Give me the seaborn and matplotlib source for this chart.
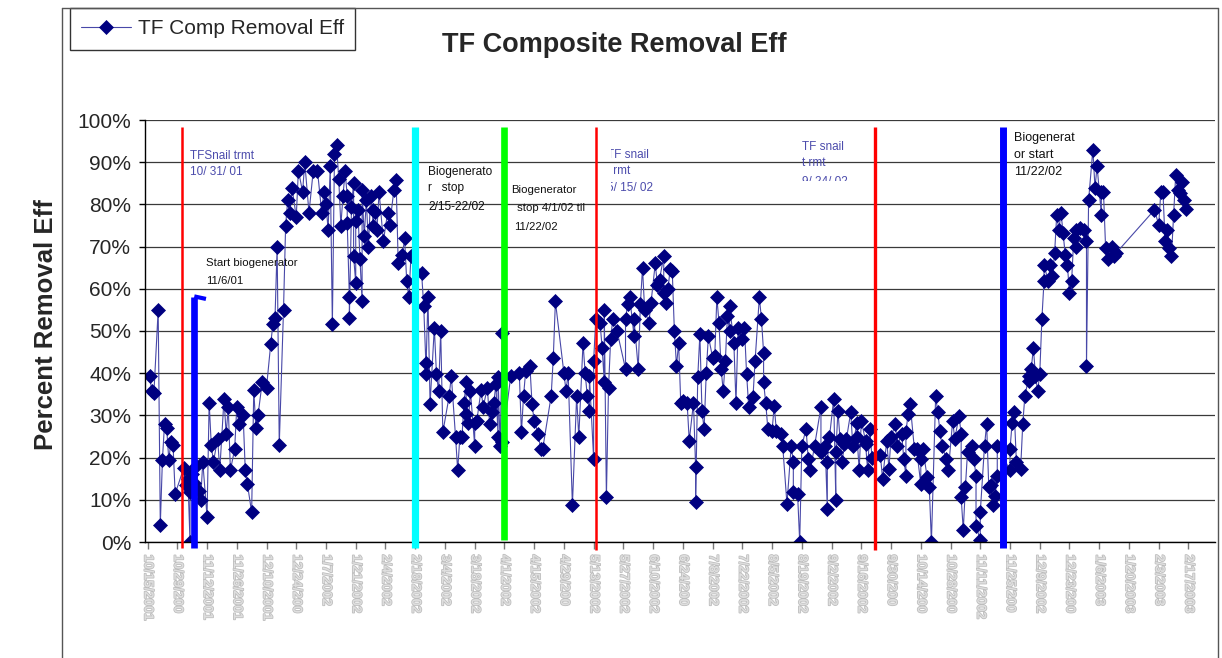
import numpy as np
import pandas as pd
import matplotlib
matplotlib.use("Agg")
import matplotlib.pyplot as plt
import seaborn as sns
from matplotlib import patheffects as pe
from matplotlib.lines import Line2D
from matplotlib.ticker import PercentFormatter
from matplotlib.transforms import Bbox

# ---------------- data (days since 10/15/2001, removal efficiency %) ----------------
days_a = [1, 2, 3, 5, 6, 7, 8, 9, 10, 11, 12, 13, 17, 18, 19, 20, 20, 21, 22, 23, 24, 25, 26, 28,
          29, 30, 31, 33, 34, 36, 37, 38, 39, 41, 42, 43, 45, 46, 47, 49, 50, 51, 52, 54, 56, 58,
          59, 60, 61, 62, 64, 65, 66, 67, 68, 70, 71, 73, 74, 76, 78, 80, 82, 83, 84, 85, 86, 87,
          88, 89, 90, 91, 92]
eff_a = [39.4, 35.8, 35.4, 55, 4, 19.5, 28, 27, 19.5, 23.6, 23, 11.4, 17.5, 13.4, 15, 0, 11.8, 16,
         14, 18, 12, 10, 19, 6, 33, 23, 19, 24.4, 17, 34, 25.6, 32, 17, 22, 32, 28, 30, 17, 13.8, 7,
         36, 27, 30, 38, 36.6, 47, 51.6, 53, 70, 23, 55, 75, 81, 78, 84, 77, 88, 83, 90, 78, 88, 88,
         78, 83, 80, 74, 89, 51.6, 92, 94, 86, 75, 82]

days_b = [93, 94, 94, 95, 95, 96, 97, 97, 98, 98, 99, 100, 101, 101, 102, 103, 104, 105, 106, 106,
          107, 108, 109, 111, 113, 114, 116, 117, 118, 120, 121, 122, 123, 124, 129, 130, 131, 131,
          132, 133, 135, 136, 137, 138, 139, 142, 143, 145, 146, 147, 148, 149, 150, 150, 151, 152,
          154, 154, 155, 157, 158, 160, 161, 162, 163, 164, 165, 165, 166, 167, 167, 171, 175, 176,
          177, 178, 180, 181, 182, 184, 185]
eff_b = [87.8, 82, 75.6, 58, 53, 79.5, 85, 67.7, 61.4, 76, 78.7, 67, 57, 83.5, 72.4, 81, 70, 82,
         78.7, 74.8, 78.3, 74, 83, 71.3, 78, 75.2, 83.5, 85.8, 66, 68, 72, 61.8, 58, 67.7, 63.8, 56,
         42.5, 39.8, 58, 32.7, 50.8, 39.8, 35.8, 50, 26, 34.6, 39.4, 24.8, 17, 24.8, 24.8, 33, 38,
         30.3, 28.3, 35.8, 22.8, 28.3, 28.7, 36, 32, 36.6, 28, 30.7, 33, 37.4, 24.8, 39, 22.8, 49.6,
         23.6, 39.4, 40, 26, 34.6, 40.5, 41.7, 32.7, 28.7, 25.6, 22]

days_c = [186, 190, 191, 192, 196, 197, 198, 200, 202, 203, 205, 206, 207, 208, 208, 210, 210, 211,
          213, 214, 215, 215, 216, 217, 218, 219, 221, 225, 225, 226, 227, 229, 229, 231, 232, 233,
          234, 236, 237, 239, 240, 241, 243, 243, 244, 245, 246, 247, 248, 249, 250, 251, 252, 254,
          255, 257, 258, 258, 259, 260, 261, 262, 263, 264, 266, 267, 268, 269, 270, 271, 272, 273,
          274, 274, 276, 277, 278, 280, 281, 282, 283]
eff_c = [22, 34.6, 43.7, 57, 40, 35.8, 40, 8.7, 34.6, 24.8, 47.2, 40, 34.6, 31, 39.4, 19.7, 43, 52.8,
         52, 46, 38, 55, 10.6, 36.6, 48, 52.8, 50, 41, 52.8, 56.3, 58, 48.8, 52.8, 41, 56.3, 65, 55,
         52, 56.7, 66, 61, 62.2, 67.7, 59, 56.7, 60, 64.6, 64.2, 50, 41.7, 47.2, 33, 33.5, 33, 24,
         33, 17.7, 9.4, 39, 49.2, 31, 26.8, 40, 48.8, 43.7, 44, 58, 52, 41, 35.8, 43, 53.5, 50, 56,
         47.2, 33, 50.8, 48, 50.8, 39.8, 32]

days_d = [285, 286, 288, 289, 290, 290, 291, 292, 294, 295, 296, 298, 299, 301, 303, 304, 304, 306,
          307, 308, 310, 311, 312, 314, 317, 317, 319, 320, 320, 321, 323, 324, 324, 325, 326, 327,
          328, 329, 331, 332, 334, 334, 335, 336, 338, 338, 339, 340, 341, 345, 346, 348, 349, 350,
          352, 353, 355, 356, 357, 357, 358, 359, 361, 362, 364, 364, 365, 367, 368, 369, 371, 372,
          373, 374, 376, 377, 379, 380, 382, 383, 383, 384, 385, 386]
eff_d = [34.3, 43, 58, 52.8, 44.9, 37.8, 33, 26.8, 26.4, 32.3, 26.4, 25.6, 22.8, 9, 22.8, 19, 11.8,
         11.4, 0, 22.8, 26.8, 19.7, 17, 22.8, 32, 21.3, 22.8, 7.9, 19, 24.8, 33.9, 10, 21.3, 31,
         24.4, 19, 23.2, 24.4, 30.7, 22.8, 28.3, 24.8, 17, 28.7, 24, 23.2, 17, 26.8, 20, 20.5, 15,
         24, 17.3, 24.8, 28, 22.8, 25.6, 19.7, 15.7, 26, 30.3, 32.7, 22, 22, 13.8, 19.7, 22, 15.4,
         13, 0, 34.6, 30.7, 26.4, 22.8, 19.7, 17, 28.7, 24.4, 29.9, 25.6, 10.6, 2.8, 13, 21.3]

days_e = [388, 389, 390, 390, 392, 392, 394, 395, 396, 397, 398, 399, 400, 400, 406, 406, 407, 408,
          409, 411, 412, 413, 415, 415, 416, 417, 418, 419, 420, 421, 422, 422, 424, 425, 426, 427,
          428, 429, 430, 431, 432, 433, 434, 435, 436, 437, 437, 439, 441, 442, 442, 443, 445, 446,
          447, 449, 449, 450, 451, 452, 454, 455, 456, 474, 476, 477, 478, 479, 480, 481, 482, 483,
          484, 485, 486, 487, 488, 489]
eff_e = [22.8, 19.7, 15.7, 3.9, 0.4, 7, 22.8, 28, 13, 13.4, 8.7, 11, 15.7, 22.8, 17, 22, 28.3, 30.7,
         19, 17.3, 28, 34.6, 39.4, 38.2, 41, 46, 39.4, 35.8, 39.8, 52.8, 61.8, 65.7, 61.8, 65.7, 63,
         68.5, 77.6, 74, 78, 73.2, 68, 65.7, 59, 61.8, 72, 70, 74, 74.4, 74, 71.3, 41.7, 81, 93, 84,
         89, 77.6, 83, 83, 69.7, 67, 70, 67.7, 68.5, 78.7, 75.2, 83, 83, 71.3, 74, 69.7, 67.7, 77.6,
         87, 83.5, 82.7, 85.4, 81, 79]

tick_labels = ["10/15/2001", "10/29/200", "11/12/2001", "11/26/2001", "12/10/2001", "12/24/200",
               "1/7/2002", "1/21/2002", "2/4/2002", "2/18/2002", "3/4/2002", "3/18/2002",
               "4/1/2002", "4/15/2002", "4/29/200", "5/13/2002", "5/27/2002", "6/10/2002",
               "6/24/200", "7/8/2002", "7/22/2002", "8/5/2002", "8/19/2002", "9/2/2002",
               "9/16/2002", "9/30/200", "10/14/200", "10/28/200", "11/11/2002", "11/25/200",
               "12/9/2002", "12/23/200", "1/6/2003", "1/20/2003", "2/3/2003", "2/17/2003"]
tick_step_days = 14

# event markers (day, top %, bottom %)
event_days = [16, 22, 126, 168, 211, 342.5, 402.6]
event_top = [98.4, 58.1, 98.4, 98.4, 98.4, 98.4, 98.4]
event_bottom = [-1.4, -1.4, -1.4, 0.5, -2.0, -2.0, -1.4]
event_colors = ["#FF0000", "#0000FF", "#00FFFF", "#00FF00", "#FF0000", "#FF0000", "#0000FF"]
event_widths = [1.8, 4.8, 5.2, 4.8, 1.8, 2.4, 5.0]

# ---------------- figure ----------------
W, H = 1222, 658
sns.set_style("white")
plt.rcParams["font.family"] = ["Liberation Sans", "DejaVu Sans"]

fig = plt.figure(figsize=(W / 100, H / 100), dpi=100)
ax = fig.add_axes([145 / W, 1 - 542 / H, (1215 - 145) / W, (542 - 120) / H])

df = pd.DataFrame({"day": days_a + days_b + days_c + days_d + days_e,
                   "eff": eff_a + eff_b + eff_c + eff_d + eff_e})

sns.lineplot(data=df, x="day", y="eff", estimator=None, sort=False, ax=ax,
             color="#4848A8", linewidth=0.8, marker="D", markersize=7,
             markerfacecolor="#000080", markeredgecolor="#000080", markeredgewidth=0.5,
             label="TF Comp Removal Eff", zorder=2)

ax.set_xlim(-1.2, 502.5)
ax.set_ylim(0, 100)
ticks = [i * tick_step_days for i in range(len(tick_labels))]
ax.set_xticks(ticks)
ax.set_xticklabels(tick_labels, rotation=-90, ha="center", va="top")
ax.set_yticks(range(0, 101, 10))
ax.yaxis.set_major_formatter(PercentFormatter(100, decimals=0))
ax.set_xlabel("")
ax.set_ylabel("")

ax.yaxis.grid(True, color="#3a3a3a", linewidth=0.9)
ax.xaxis.grid(False)
ax.set_axisbelow(True)
for s in ["top", "right"]:
    ax.spines[s].set_visible(False)
for s in ["left", "bottom"]:
    ax.spines[s].set_color("black")
    ax.spines[s].set_linewidth(1.0)

ax.tick_params(axis="y", direction="out", length=4, width=1, color="black",
               labelsize=15, pad=6, left=True)
ax.tick_params(axis="x", direction="out", length=5, width=1, color="#777777",
               labelsize=9.5, labelcolor="#dedede", pad=4, bottom=True)
for lab in ax.get_xticklabels():
    lab.set_fontweight("bold")
    lab.set_path_effects([pe.withStroke(linewidth=1.1, foreground="#bcbcbc")])

# event lines
for d, t, b, c, w in zip(event_days, event_top, event_bottom, event_colors, event_widths):
    ax.plot([d, d], [b, t], color=c, linewidth=w, solid_capstyle="butt",
            clip_on=False, zorder=4)
# small flag at top of first biogenerator line
ax.plot([event_days[1], event_days[1] + 5.5], [58.2, 57.6], color="#0000FF",
        linewidth=3, solid_capstyle="butt", clip_on=False, zorder=4)

# annotations
BLUE_T = "#4C4CAC"
def fx(x):
    return x / W
def fy(y):
    return 1 - y / H

notes = [
    ("TFSnail trmt", 190, 156, BLUE_T, 8.5, None),
    ("10/ 31/ 01", 190, 172, BLUE_T, 8.5, None),
    ("Start biogenerator", 206, 263, "#111111", 8.2, None),
    ("11/6/01", 206, 281, "#111111", 8.2, None),
    ("Biogenerato", 428, 172, "#111111", 8.6, None),
    ("r   stop", 428, 188, "#111111", 8.6, None),
    ("2/15-22/02", 428, 207, "#111111", 8.6, None),
    ("Biogenerator", 511, 190, "#111111", 8.2, None),
    (" stop 4/1/02 til", 514, 208, "#111111", 8.2, None),
    ("11/22/02", 514, 227, "#111111", 8.2, None),
    ("TF snail", 607, 155, BLUE_T, 8.5, (611, 130, 700, 191)),
    ("trmt", 611, 171, BLUE_T, 8.5, (614, 130, 700, 191)),
    ("5/ 15/ 02", 607, 188, BLUE_T, 8.5, (611, 130, 700, 191)),
    ("TF snail", 802, 147, BLUE_T, 8.5, (790, 130, 880, 180.5)),
    ("t rmt", 802, 163, BLUE_T, 8.5, (790, 130, 880, 180.5)),
    ("9/ 24/ 02", 802, 182, BLUE_T, 8.5, (790, 130, 880, 180.5)),
    ("Biogenerat", 1014, 138, "#111111", 9, None),
    ("or start", 1014, 155, "#111111", 9, None),
    ("11/22/02", 1014, 172, "#111111", 9, None),
]
for txt, x, y, c, s, clip in notes:
    t = fig.text(fx(x), fy(y), txt, color=c, fontsize=s, ha="left", va="center", zorder=5)
    if clip is not None:
        x0, y0, x1, y1 = clip
        t.set_clip_box(Bbox.from_extents(x0, H - y1, x1, H - y0))
        t.set_clip_on(True)

# title and y label
fig.text(fx(614), fy(45), "TF Composite Removal Eff", ha="center", va="center",
         fontsize=19.5, fontweight="bold")
fig.text(fx(46), fy(325), "Percent Removal Eff", ha="center", va="center",
         rotation=90, fontsize=18.5, fontweight="bold")

# legend
leg = ax.legend(loc="upper left", bbox_to_anchor=(fx(70), fy(8)), bbox_transform=fig.transFigure,
                frameon=True, fancybox=False, edgecolor="#333333", fontsize=15,
                handlelength=2.4, borderaxespad=0, borderpad=0.55, framealpha=1,
                handletextpad=0.3)
leg.get_frame().set_linewidth(1.0)

# chart frame
frame_kw = dict(transform=fig.transFigure, color="#555555", linewidth=1.0)
fig.add_artist(Line2D([fx(62), fx(1218)], [fy(8), fy(8)], **frame_kw))
fig.add_artist(Line2D([fx(1218), fx(1218)], [fy(8), fy(658)], **frame_kw))
fig.add_artist(Line2D([fx(62), fx(62)], [fy(8), fy(658)], **frame_kw))

fig.savefig("out.png", dpi=100)
